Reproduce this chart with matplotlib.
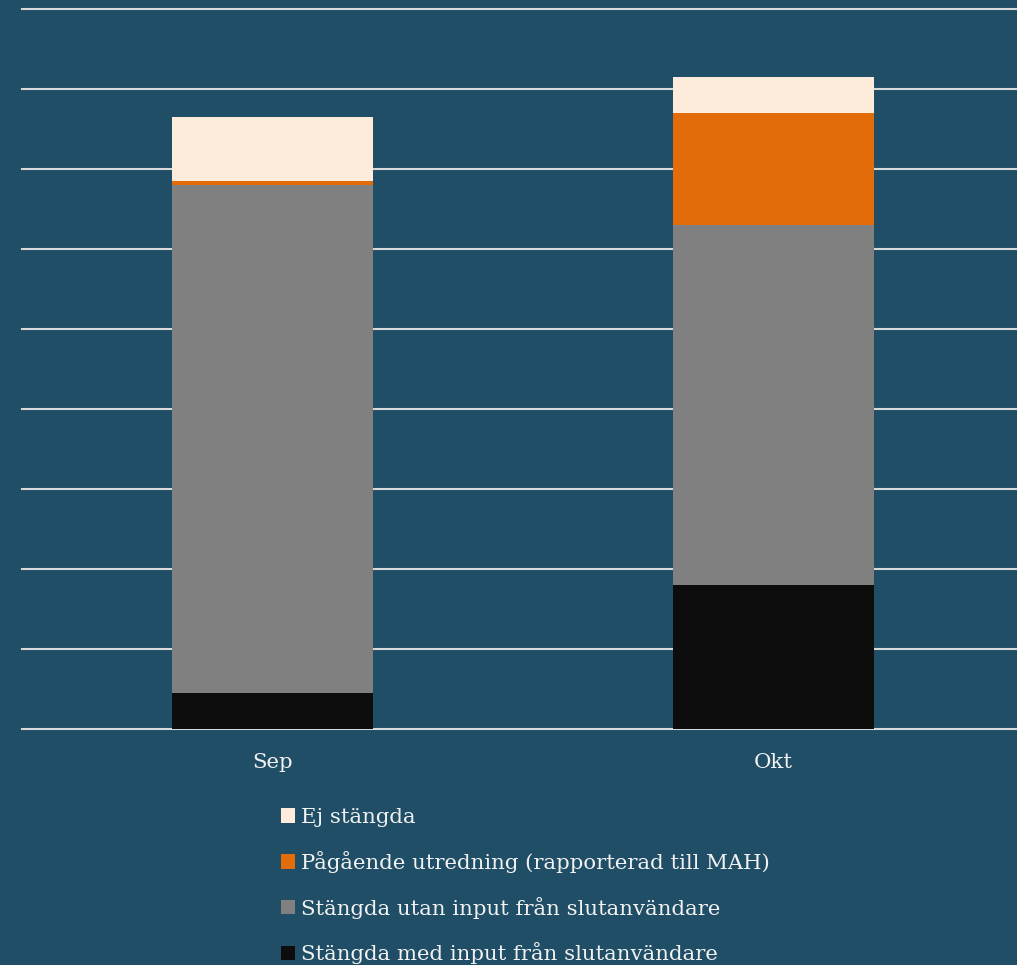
import matplotlib.pyplot as plt
import numpy as np
from matplotlib.patches import Patch

# Data (counts per month; gridline step = 20)
months = ['Sep', 'Okt']
stangda_med = [9, 36]      # Stängda med input från slutanvändare
stangda_utan = [127, 90]   # Stängda utan input från slutanvändare
pagaende = [1, 28]         # Pågående utredning (rapporterad till MAH)
ej_stangda = [16, 9]       # Ej stängda

labels = ['Stängda med input från slutanvändare',
          'Stängda utan input från slutanvändare',
          'Pågående utredning (rapporterad till MAH)',
          'Ej stängda']
colors = ['#0d0d0d', '#808080', '#e36c0a', '#fdebdc']

bg = '#1f4e66'
plt.rcParams['font.family'] = ['DejaVu Serif']

fig = plt.figure(figsize=(10.17, 9.65), dpi=100, facecolor=bg)
ax = fig.add_axes([22 / 1017, 1 - 729 / 965, 1002 / 1017, 720 / 965])
ax.set_facecolor(bg)

x = np.arange(len(months))
series = [stangda_med, stangda_utan, pagaende, ej_stangda]
bottom = np.zeros(len(months))
for vals, col in zip(series, colors):
    ax.bar(x, vals, width=0.4, bottom=bottom, color=col, linewidth=0, zorder=3)
    bottom += np.array(vals)

ax.set_xlim(-0.5, 1.5)
ax.set_ylim(0, 180)
ax.set_yticks(np.arange(0, 181, 20))
ax.set_yticklabels([])
ax.grid(axis='y', color='#d9d9d9', linewidth=1.5, zorder=0)
for gl in ax.get_ygridlines():
    gl.set_clip_on(False)
ax.set_axisbelow(True)
for s in ax.spines.values():
    s.set_visible(False)
ax.tick_params(axis='y', length=0)
ax.tick_params(axis='x', length=0, pad=17, labelsize=15.3, labelcolor='#f2f2f2')
ax.set_xticks(x)
ax.set_xticklabels(months)

handles = [Patch(facecolor=c, edgecolor='none') for c in colors]
leg = fig.legend(handles[::-1], labels[::-1], loc='upper left',
                 bbox_to_anchor=(281 / 1017, 1 - 808 / 965),
                 frameon=False, fontsize=15.3, labelcolor='#f2f2f2',
                 handlelength=0.66, handleheight=0.66, handletextpad=0.28,
                 labelspacing=1.12, borderpad=0, borderaxespad=0)

fig.savefig('out.png', dpi=100, facecolor=bg)
